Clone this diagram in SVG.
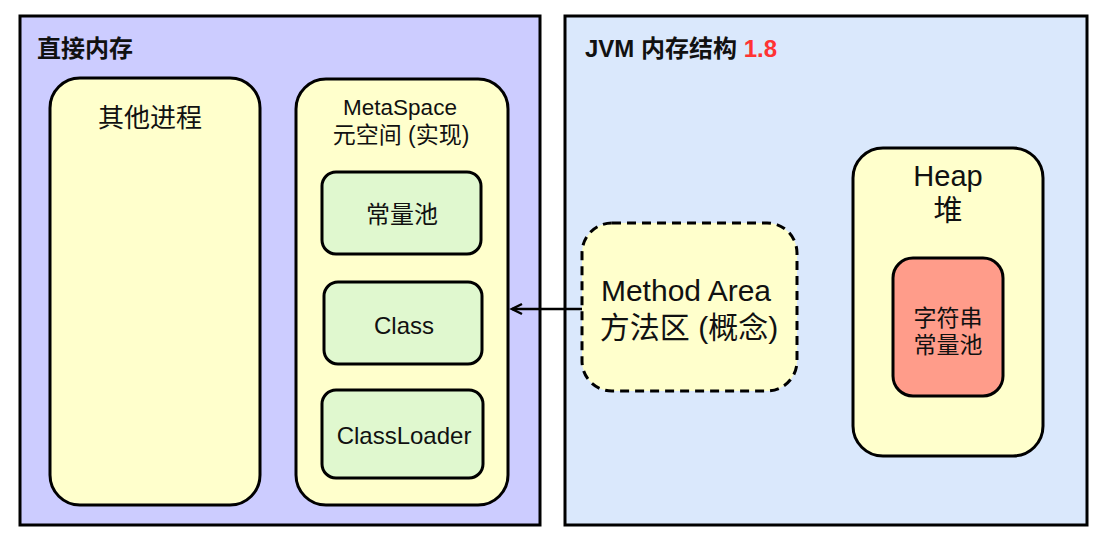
<svg xmlns="http://www.w3.org/2000/svg" width="1103" height="542" viewBox="0 0 1103 542">
<style>
.box{stroke:#000;stroke-width:3}
.yel{fill:#FFFFCC}
.grn{fill:#E0F8CF}
text{font-family:"Liberation Sans","Noto Sans CJK SC",sans-serif;fill:#111}
.c{text-anchor:middle}
.h{font-weight:bold;font-size:24px}
</style>
<defs>
<marker id="arr" markerWidth="16" markerHeight="16" refX="13" refY="7" orient="auto" markerUnits="userSpaceOnUse">
<path d="M3,2 L13,7 L3,12" fill="none" stroke="#000" stroke-width="2.5"/>
</marker>
</defs>
<rect width="1103" height="542" fill="#fff"/>
<g id="direct-memory">
<rect class="box" x="20" y="16" width="520" height="509" fill="#CCCCFF"/>
<text class="h" x="37" y="57">直接内存</text>
</g>
<g id="jvm">
<rect class="box" x="565" y="16" width="522" height="509" fill="#DAE8FC"/>
<text class="h" x="585" y="57">JVM 内存结构 <tspan fill="#FF3333">1.8</tspan></text>
</g>
<g id="other-process">
<rect class="box yel" x="50" y="78" width="210" height="427" rx="30"/>
<text class="c" x="150" y="127" font-size="26">其他进程</text>
</g>
<g id="metaspace">
<rect class="box yel" x="296" y="79" width="212" height="426" rx="30"/>
<text class="c" x="400" y="115" font-size="22.5">MetaSpace</text>
<text class="c" x="401" y="143" font-size="23">元空间 (实现)</text>
</g>
<g id="constant-pool">
<rect class="box grn" x="322" y="172" width="159" height="82" rx="14"/>
<text class="c" x="402" y="223" font-size="24">常量池</text>
</g>
<g id="class">
<rect class="box grn" x="324" y="282" width="158" height="82" rx="14"/>
<text class="c" x="404" y="334" font-size="24">Class</text>
</g>
<g id="classloader">
<rect class="box grn" x="322" y="390" width="161" height="88" rx="14"/>
<text class="c" x="404" y="444" font-size="24">ClassLoader</text>
</g>
<g id="method-area">
<rect x="582" y="223" width="215" height="168" rx="30" fill="#FFFFCC" stroke="#000" stroke-width="3" stroke-dasharray="9,6"/>
<text class="c" x="686" y="301" font-size="30">Method Area</text>
<text class="c" x="689" y="338" font-size="30">方法区 (概念)</text>
</g>
<g id="heap">
<rect class="box yel" x="853" y="148" width="190" height="308" rx="30"/>
<text class="c" x="948" y="186" font-size="29">Heap</text>
<text class="c" x="948" y="221" font-size="29">堆</text>
</g>
<g id="string-pool">
<rect class="box" x="893" y="258" width="110" height="138" rx="20" fill="#FF9C8A"/>
<text class="c" x="948" y="326" font-size="23">字符串</text>
<text class="c" x="948" y="353" font-size="23">常量池</text>
</g>
<g id="connectors">
<line x1="582" y1="309" x2="512" y2="309" stroke="#000" stroke-width="2.5" marker-end="url(#arr)"/>
</g>
</svg>
